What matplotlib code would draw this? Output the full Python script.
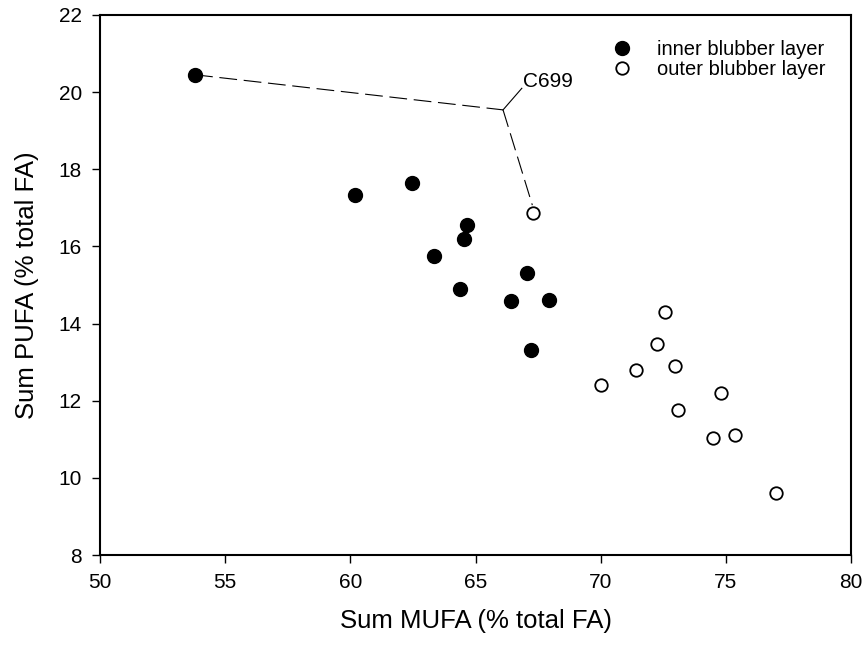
import matplotlib
matplotlib.use("Agg")
import matplotlib.pyplot as plt

plt.rcParams['font.family'] = ['Liberation Sans', 'DejaVu Sans']

# inner blubber layer
inner_mufa = [53.8, 60.2, 62.45, 64.65, 64.55, 63.35, 67.05, 64.4, 66.4, 67.95, 67.2]
inner_pufa = [20.45, 17.33, 17.65, 16.55, 16.2, 15.75, 15.31, 14.9, 14.58, 14.62, 13.31]

# outer blubber layer
outer_mufa = [67.3, 72.55, 72.25, 71.4, 72.95, 70.0, 74.8, 73.1, 74.5, 75.35, 77.0]
outer_pufa = [16.87, 14.3, 13.48, 12.79, 12.9, 12.4, 12.2, 11.76, 11.04, 11.12, 9.62]

# individual C699 sampled in both layers
label_name = 'C699'
label_xy = (66.1, 19.54)

fig = plt.figure(figsize=(8.64, 6.49), dpi=100)
ax = fig.add_axes([0.1157, 0.1448, 0.8693, 0.8321])

ax.plot(inner_mufa, inner_pufa, 'o', color='black', markersize=10,
        label='inner blubber layer', zorder=3)
ax.plot(outer_mufa, outer_pufa, 'o', markerfacecolor='white', markeredgecolor='black',
        markeredgewidth=1.3, markersize=9, label='outer blubber layer', zorder=3)

# leader lines from label to both C699 samples
ax.plot([inner_mufa[0], label_xy[0]], [inner_pufa[0], label_xy[1]],
        color='black', lw=0.8, dashes=(16, 6), zorder=2)
ax.plot([label_xy[0], outer_mufa[0] - 0.03], [label_xy[1], outer_pufa[0] + 0.2],
        color='black', lw=0.8, dashes=(16, 6), zorder=2)
ax.plot([label_xy[0], 66.85], [label_xy[1], 20.1], color='black', lw=0.8, zorder=2)
ax.text(66.9, 20.27, label_name, fontsize=15, ha='left', va='center')

ax.set_xlim(50, 80)
ax.set_ylim(8, 22)
ax.set_xticks(range(50, 81, 5))
ax.set_yticks(range(8, 23, 2))
ax.tick_params(direction='out', length=6, width=1, labelsize=15, pad=7,
               top=False, right=False)
for side in ['left', 'bottom', 'top', 'right']:
    ax.spines[side].set_linewidth(1.5)

ax.set_xlabel('Sum MUFA (% total FA)', fontsize=18.5, labelpad=12)
ax.set_ylabel('Sum PUFA (% total FA)', fontsize=18.5, labelpad=14)

ax.legend(loc='upper left', bbox_to_anchor=(0.682, 0.954), frameon=False,
          fontsize=14.5, handlelength=1.0, handletextpad=1.2,
          borderpad=0, borderaxespad=0, labelspacing=0.05)

fig.savefig('out.png', dpi=100)
